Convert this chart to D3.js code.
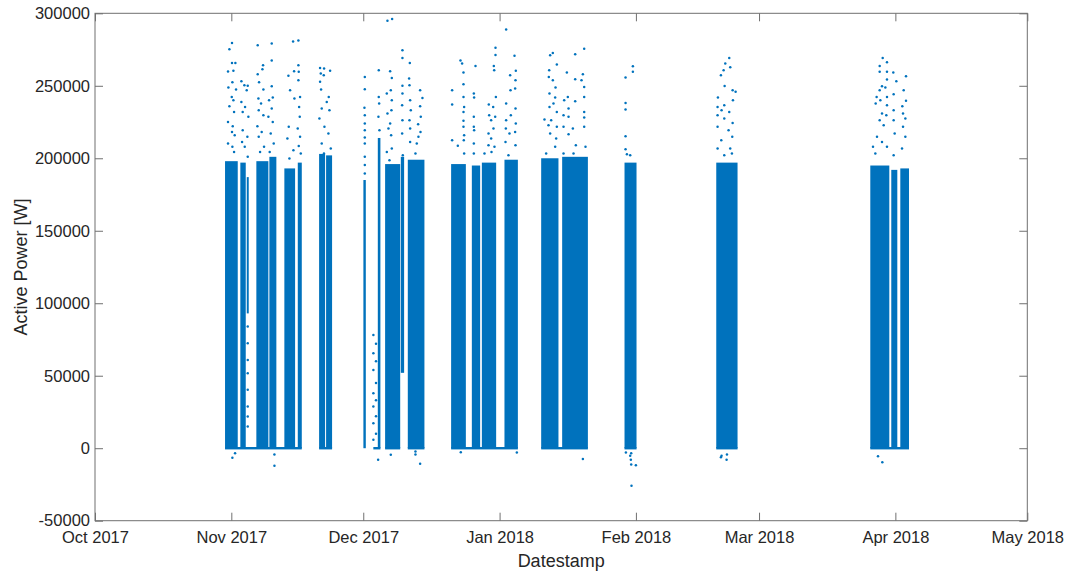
<!DOCTYPE html>
<html>
<head>
<meta charset="utf-8">
<script src="https://cdn.jsdelivr.net/npm/d3@7"></script>
<style>
  html, body { margin: 0; padding: 0; background: #ffffff; }
  svg { display: block; }
</style>
</head>
<body>
<svg id="chart" width="1067" height="573"></svg>
<script>
// ---------------- DATA ----------------
const yTickValues = [-50000, 0, 50000, 100000, 150000, 200000, 250000, 300000];
const xDomainStart = "2017-10-01T00:00";
const xDomainEnd = "2018-05-01T00:00";

// Dense operating blocks (continuous scatter bands)
const blockStart = ["2017-10-30T13:40","2017-11-03T01:10","2017-11-04T12:15","2017-11-06T16:35","2017-11-09T15:35",
  "2017-11-13T01:25","2017-11-16T02:40","2017-11-20T23:00","2017-11-22T13:10","2017-12-01T00:45",
  "2017-12-04T07:25","2017-12-05T23:15","2017-12-09T13:00","2017-12-11T03:05","2017-12-20T23:30",
  "2017-12-25T16:35","2017-12-27T23:15","2018-01-02T02:40","2018-01-10T11:00","2018-01-15T05:30",
  "2018-01-29T09:50","2018-02-19T06:30","2018-03-26T07:10","2018-03-31T01:40","2018-04-02T02:55"];
const blockEnd = ["2017-11-02T11:00","2017-11-04T06:40","2017-11-04T23:00","2017-11-09T10:05","2017-11-11T05:45",
  "2017-11-15T12:00","2017-11-17T00:30","2017-11-22T07:40","2017-11-23T21:50","2017-12-01T13:55",
  "2017-12-04T21:35","2017-12-09T09:35","2017-12-10T07:00","2017-12-14T21:50","2017-12-24T07:55",
  "2017-12-27T13:55","2017-12-31T05:15","2018-01-05T03:50","2018-01-14T09:20","2018-01-21T01:55",
  "2018-02-01T03:20","2018-02-24T02:40","2018-03-30T14:55","2018-04-01T10:35","2018-04-04T02:25"];
const blockTopW = [198000,197000,187000,198000,201000,193000,197000,203000,202000,185000,
  214000,196000,201000,199000,196000,195000,197000,199000,200000,201000,
  197000,197000,195000,192000,193000];
const blockBottomW = [0,0,93000,0,0,0,0,0,0,0,
  0,0,52000,0,0,0,0,0,0,0,
  0,0,0,0,0];

// Periods where the power sits at 0 W (line of points at zero)
const zeroStart = ["2017-10-30T13:40","2017-11-20T23:00","2017-12-03T07:00","2017-12-05T23:15","2017-12-11T03:05",
  "2017-12-20T23:30","2018-01-10T11:00","2018-01-29T09:50","2018-02-19T06:30","2018-03-26T07:10"];
const zeroEnd = ["2017-11-17T00:30","2017-11-23T21:50","2017-12-04T21:35","2017-12-09T09:35","2017-12-14T21:50",
  "2018-01-05T03:50","2018-01-21T01:55","2018-02-01T03:20","2018-02-24T02:40","2018-04-04T02:25"];

// Sparse points: [days since 1 Oct 2017, active power in kW]
const sparsePoints = [
[31.16,279.5],[30.56,275.2],[31.16,265.8],[31.92,265.8],[30.25,259.8],[31.47,260.3],[31.24,252.4],[30.33,248.8],[32.07,247.4],[31.09,242.3],[31.47,240.0],[30.56,235.9],[31.62,232.0],[30.25,225.1],[31.32,222.1],[31.16,218.2],[31.77,215.9],[30.25,210.2],[31.24,207.9],[31.62,204.4],
[33.29,253.1],[33.97,250.4],[34.73,250.1],[34.50,246.9],[33.29,238.9],[34.12,235.4],[33.59,232.0],[34.88,228.6],[33.59,219.4],[34.65,214.8],[33.44,211.3],[34.05,207.9],[34.73,201.0],
[34.73,83.9],[34.73,72.4],[34.73,60.9],[34.73,51.7],[34.73,40.3],[34.73,28.8],[34.73,21.9],[34.73,15.0],
[37.00,277.9],[38.22,264.2],[38.07,261.4],[37.00,257.9],[37.31,252.4],[38.29,247.4],[37.16,241.2],[37.76,237.7],[37.23,233.2],[38.29,229.7],[36.93,222.1],[37.91,218.2],[37.23,214.8],[38.44,207.9],[37.53,204.4],
[40.19,279.1],[40.19,267.4],[40.19,249.7],[39.58,240.0],[40.42,241.9],[40.19,234.3],[39.43,228.6],[40.42,225.1],[39.96,217.1],[40.64,210.2],[39.73,204.4],
[45.04,280.5],[46.25,281.2],[43.98,257.0],[45.27,260.0],[44.36,246.9],[45.35,241.2],[44.06,221.7],[43.75,213.6],[45.12,205.6],[44.21,199.8],
[46.25,264.2],[46.33,259.6],[46.25,253.8],[46.63,242.3],[46.41,235.4],[46.56,228.6],[46.10,220.5],[46.63,214.8],[46.33,208.4],[46.79,203.3],
[51.18,262.3],[52.09,261.9],[51.34,258.4],[53.46,260.3],[52.02,257.3],[51.18,252.7],[51.41,247.4],[53.15,242.3],[51.56,234.3],[52.70,238.9],[53.31,233.2],[51.03,227.4],[52.17,221.7],[53.08,217.1],[51.56,210.2],[53.61,206.7],[52.06,203.3],
[61.35,256.1],[61.35,247.6],[61.27,234.8],[61.35,229.7],[61.35,224.0],[61.35,219.4],[61.35,214.3],[61.35,210.2],[61.35,201.0],[61.35,195.3],[61.35,189.5],
[63.3,78.1],[63.3,65.5],[63.3,54.0],[63.3,37.9],[63.3,28.8],[63.3,17.3],[63.3,5.8],[63.9,72.0],[63.9,60.0],[63.9,45.0],[63.9,33.0],[63.9,22.0],[63.9,10.0],
[66.50,294.9],[67.56,296.1],
[64.53,260.7],[64.53,242.3],[64.61,237.8],[64.45,228.6],[64.68,219.4],
[67.11,260.0],[67.49,255.4],[67.26,246.9],[66.35,244.6],[67.49,240.0],[66.50,230.9],[67.41,233.2],[67.11,224.0],[66.73,220.5],[67.34,215.9],[67.49,206.7],[66.35,204.4],[66.96,198.7],
[69.91,274.5],[69.91,269.2],[71.58,265.8],[71.43,255.0],[69.91,250.1],[71.51,250.4],[69.91,244.6],[71.66,240.0],[73.93,246.9],[74.46,241.6],[69.84,236.6],[71.81,233.2],[73.93,235.9],[69.91,226.3],[71.51,226.3],[74.08,228.6],[69.84,217.1],[71.66,220.5],[73.48,223.5],[74.01,218.2],[73.55,214.8],[71.66,211.3],[73.17,210.2],[72.87,203.3],[69.99,202.1],
[81.21,246.9],[81.21,237.1],[81.21,212.5],[82.50,208.6],[83.11,267.4],[83.48,265.3],[83.79,259.1],[83.79,251.1],[83.79,242.3],[83.94,235.4],[83.79,232.0],[83.79,225.8],[83.79,221.7],[83.94,215.9],[83.86,212.5],[83.94,203.3],
[86.52,263.7],[86.14,244.6],[86.21,241.9],[86.14,228.6],[86.14,221.7],[86.21,219.4],[86.14,210.2],[86.14,203.3],
[91.07,276.3],[91.07,271.3],[90.69,263.7],[90.77,260.7],[91.15,242.3],[89.55,237.1],[90.54,235.4],[89.63,229.7],[90.08,226.3],[91.00,228.6],[90.61,220.5],[89.48,217.1],[90.08,213.6],[89.48,209.0],[90.84,207.9],[88.57,203.3],[90.16,204.4],
[93.49,288.9],[95.39,270.8],[94.40,257.3],[95.69,260.3],[95.62,253.8],[95.54,248.1],[94.48,246.9],[93.49,237.8],[95.62,234.3],[94.56,229.7],[93.49,226.3],[95.69,224.0],[93.42,220.5],[94.25,217.1],[95.54,218.2],[93.34,211.3],[95.62,209.0],[94.02,202.1],
[103.50,271.0],[104.11,272.6],[105.02,264.6],[103.28,260.7],[103.20,256.1],[104.11,253.8],[104.72,248.8],[103.35,244.6],[104.64,241.9],[103.35,235.4],[104.26,237.7],[105.02,232.0],[102.21,226.7],[103.73,226.3],[103.12,222.8],[105.02,221.7],[103.50,217.1],[104.87,213.6],[102.59,203.3],[104.64,207.9],
[109.19,271.7],[111.24,275.6],[107.30,259.1],[110.94,257.9],[109.19,254.5],[110.63,253.8],[111.24,249.2],[106.69,240.0],[107.52,242.3],[109.19,239.4],[111.24,242.3],[107.68,234.3],[111.24,232.0],[106.54,229.7],[107.68,228.6],[111.24,228.1],[106.54,221.7],[108.66,220.5],[111.24,221.7],[107.68,216.6],[109.34,209.0],[111.54,207.9],[106.54,203.3],[108.81,203.3],
[122.31,263.5],[122.31,259.6],[120.64,255.7],[120.64,238.2],[120.64,233.6],[120.64,215.2],[120.64,206.3],[120.95,202.8],[121.70,202.1],
[144.23,269.2],[143.32,265.3],[144.45,262.8],[142.94,260.7],[142.33,257.3],[143.17,249.9],[141.65,241.9],[144.99,246.9],[145.67,245.8],[145.06,240.0],[143.09,236.6],[141.57,235.4],[144.23,232.0],[142.48,233.2],[141.57,229.7],[143.09,227.4],[144.99,224.4],[141.57,221.7],[144.07,219.4],[144.91,214.8],[142.41,212.5],[141.57,206.7],[144.45,206.7],[143.09,202.1],[144.83,203.3],
[179.11,269.2],[180.09,266.2],[178.43,263.7],[178.43,259.6],[180.09,259.6],[181.53,259.1],[184.42,256.6],[180.09,254.3],[182.22,253.1],[178.96,249.7],[179.72,248.8],[178.43,246.9],[183.89,246.9],[181.61,244.2],[180.09,242.3],[177.74,242.3],[178.58,240.0],[184.42,239.6],[177.52,237.8],[180.09,236.6],[183.58,235.9],[181.61,233.2],[178.96,230.9],[179.94,229.7],[183.74,230.9],[178.43,226.3],[181.61,226.3],[184.27,227.4],[179.34,222.8],[183.74,221.7],[181.84,217.1],[184.27,214.8],[177.82,214.8],[178.96,211.3],[176.91,207.9],[180.09,207.9],[183.51,206.7],[177.44,203.3],[181.61,202.1],
[31.85,-3.4],[31.24,-6.6],[40.80,-4.3],[40.80,-12.1],[64.38,-8.0],[67.26,-4.5],[72.87,-2.2],[72.87,-4.3],[73.93,-10.7],[83.18,-2.7],[95.92,-2.9],[110.94,-7.5],[120.72,-2.9],[121.70,-5.2],[121.85,-8.0],[121.93,-11.2],[122.99,-11.7],[122.00,-25.9],[121.93,-3.4],[142.48,-5.2],[142.33,-6.2],[143.70,-4.3],[143.62,-8.0],[178.05,-5.5],[179.03,-9.6]
];

const xLabel = "Datestamp";
const yLabel = "Active Power [W]";

// ---------------- CHART ----------------
const parse = d3.utcParse("%Y-%m-%dT%H:%M");
const baseDate = parse(xDomainStart);
const dayMs = 864e5;

const svg = d3.select("#chart");
const plotL = 95, plotR = 1027.3, plotT = 13.3, plotB = 520.7;
const blue = "#0072BD";
const axisColor = "#707070";
const textColor = "#262626";
const font = "'Liberation Sans', Arial, Helvetica, sans-serif";

const x = d3.scaleUtc().domain([parse(xDomainStart), parse(xDomainEnd)]).range([plotL, plotR]);
const y = d3.scaleLinear().domain([d3.min(yTickValues), d3.max(yTickValues)]).range([plotB, plotT]);

svg.append("rect").attr("width", 1067).attr("height", 573).attr("fill", "#fff");

const plot = svg.append("g");

const blocks = blockStart.map((s, i) => ({ s: parse(s), e: parse(blockEnd[i]), top: blockTopW[i], bot: blockBottomW[i] }));
plot.selectAll("rect.block").data(blocks).join("rect")
  .attr("class", "block")
  .attr("x", d => x(d.s))
  .attr("width", d => Math.max(1.5, x(d.e) - x(d.s)))
  .attr("y", d => y(d.top))
  .attr("height", d => y(d.bot) - y(d.top))
  .attr("fill", blue);

const zeros = zeroStart.map((s, i) => ({ s: parse(s), e: parse(zeroEnd[i]) }));
plot.selectAll("rect.zero").data(zeros).join("rect")
  .attr("class", "zero")
  .attr("x", d => x(d.s))
  .attr("width", d => x(d.e) - x(d.s))
  .attr("y", y(0) - 1.2)
  .attr("height", 2.4)
  .attr("fill", blue);

plot.selectAll("circle.pt").data(sparsePoints).join("circle")
  .attr("class", "pt")
  .attr("cx", d => x(new Date(baseDate.getTime() + d[0] * dayMs)))
  .attr("cy", d => y(d[1] * 1000))
  .attr("r", 1.25)
  .attr("fill", blue);

// Axes (MATLAB style: inward ticks, box)
function styleAxis(g) {
  g.select(".domain").remove();
  g.selectAll(".tick line").attr("stroke", axisColor).attr("stroke-width", 1);
  g.selectAll(".tick text").attr("fill", textColor).style("font-family", font).style("font-size", "16.5px");
}
const monthTicks = d3.utcMonth.every(1);

svg.append("g").attr("transform", `translate(0,${plotB})`)
  .call(d3.axisBottom(x).ticks(monthTicks).tickFormat(d3.utcFormat("%b %Y")).tickSizeInner(-8).tickSizeOuter(0).tickPadding(11))
  .call(styleAxis);
svg.append("g").attr("transform", `translate(0,${plotT})`)
  .call(d3.axisTop(x).ticks(monthTicks).tickFormat("").tickSizeInner(-8).tickSizeOuter(0))
  .call(styleAxis);
svg.append("g").attr("transform", `translate(${plotL},0)`)
  .call(d3.axisLeft(y).tickValues(yTickValues).tickFormat(d => String(d)).tickSizeInner(-8).tickSizeOuter(0).tickPadding(5))
  .call(styleAxis);
svg.append("g").attr("transform", `translate(${plotR},0)`)
  .call(d3.axisRight(y).tickValues(yTickValues).tickFormat("").tickSizeInner(-8).tickSizeOuter(0))
  .call(styleAxis);

svg.append("rect")
  .attr("x", plotL).attr("y", plotT)
  .attr("width", plotR - plotL).attr("height", plotB - plotT)
  .attr("fill", "none").attr("stroke", axisColor).attr("stroke-width", 1);

svg.append("text")
  .attr("x", (plotL + plotR) / 2).attr("y", 567)
  .attr("text-anchor", "middle")
  .attr("fill", textColor)
  .style("font-family", font).style("font-size", "18px")
  .text(xLabel);

svg.append("text")
  .attr("transform", `translate(27,${(plotT + plotB) / 2}) rotate(-90)`)
  .attr("text-anchor", "middle")
  .attr("fill", textColor)
  .style("font-family", font).style("font-size", "18px")
  .text(yLabel);
</script>
</body>
</html>
